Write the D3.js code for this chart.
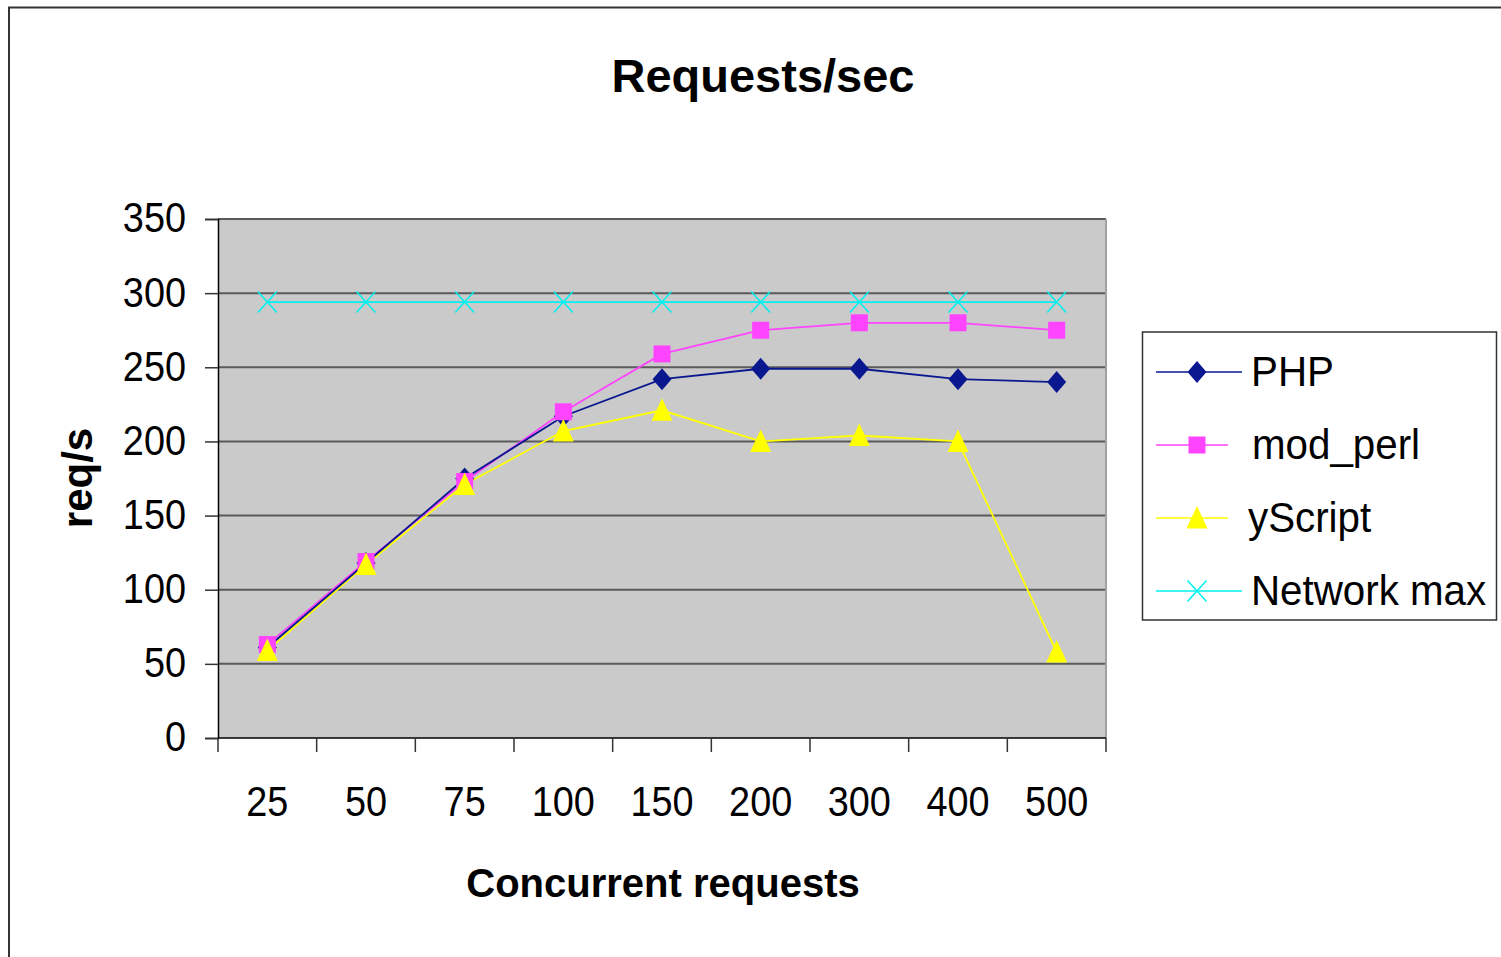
<!DOCTYPE html>
<html>
<head>
<meta charset="utf-8">
<script src="https://cdn.jsdelivr.net/npm/d3@7"></script>
<style>
  body { margin: 0; background: #fff; }
  text { font-family: "Liberation Sans", Arial, sans-serif; fill: #000; }
</style>
</head>
<body>
<div id="chart"></div>
<script>
// data
const categories = ['25', '50', '75', '100', '150', '200', '300', '400', '500'];
const php = [61, 118, 175, 217, 242, 249, 249, 242, 240];
const modPerl = [63, 119, 173, 220, 259, 275, 280, 280, 275];
const yScript = [59, 117, 171, 207, 221, 200, 204, 200, 58];
const networkMax = [294, 294, 294, 294, 294, 294, 294, 294, 294];
const yTicks = [0, 50, 100, 150, 200, 250, 300, 350];

const series = [
    { name: 'PHP', values: php, color: '#0a1890', symbol: 'diamond', legendLen: 'long' },
    { name: 'mod_perl', values: modPerl, color: '#ff44ff', symbol: 'square', legendLen: 'short' },
    { name: 'yScript', values: yScript, color: '#ffff00', symbol: 'triangle', legendLen: 'short' },
    { name: 'Network max', values: networkMax, color: '#00f0f0', symbol: 'cross', legendLen: 'long' },
];

const width = 1501;
const height = 957;
const plot = { left: 218, top: 219, right: 1106, bottom: 738 };

const svg = d3.select('#chart')
    .append('svg')
    .attr('width', width)
    .attr('height', height);

// outer frame
svg.append('rect')
    .attr('x', 9).attr('y', 7.5)
    .attr('width', width + 10).attr('height', height + 10)
    .attr('fill', 'none')
    .attr('stroke', '#333')
    .attr('stroke-width', 2);

const x = d3.scaleBand()
    .domain(categories)
    .range([plot.left, plot.right]);

const y = d3.scaleLinear()
    .domain([0, 350])
    .range([plot.bottom, plot.top]);

// plot background
svg.append('rect')
    .attr('x', plot.left).attr('y', plot.top)
    .attr('width', plot.right - plot.left)
    .attr('height', plot.bottom - plot.top)
    .attr('fill', '#cacaca');

// gridlines
svg.append('g')
    .selectAll('line')
    .data(yTicks.filter((d) => d > 0))
    .enter()
    .append('line')
    .attr('x1', plot.left).attr('x2', plot.right)
    .attr('y1', (d) => y(d)).attr('y2', (d) => y(d))
    .attr('stroke', '#5a5a5a')
    .attr('stroke-width', 2);

// right border of plot
svg.append('line')
    .attr('x1', plot.right).attr('x2', plot.right)
    .attr('y1', plot.top).attr('y2', plot.bottom)
    .attr('stroke', '#a0a0a0')
    .attr('stroke-width', 2);

// y axis
const yAxis = svg.append('g')
    .attr('transform', `translate(${plot.left},0)`)
    .call(d3.axisLeft(y).tickValues(yTicks).tickSize(13).tickFormat(''));
yAxis.select('.domain').attr('stroke', '#000').attr('stroke-width', 1.5);
yAxis.selectAll('.tick line').attr('stroke', '#333').attr('stroke-width', 1.5);

yAxis.selectAll('.tick')
    .append('text')
    .attr('transform', 'translate(-32,0) scale(0.88,1)')
    .attr('text-anchor', 'end')
    .attr('dy', '0.3em')
    .style('font-size', '43px')
    .text((d) => d);

// x axis: ticks between categories
const bounds = categories.map((c) => x(c)).concat([plot.right]);
svg.append('line')
    .attr('x1', plot.left).attr('x2', plot.right)
    .attr('y1', plot.bottom).attr('y2', plot.bottom)
    .attr('stroke', '#000')
    .attr('stroke-width', 1.5);
svg.append('g')
    .selectAll('line')
    .data(bounds)
    .enter()
    .append('line')
    .attr('x1', (d) => d).attr('x2', (d) => d)
    .attr('y1', plot.bottom).attr('y2', plot.bottom + 14)
    .attr('stroke', '#333')
    .attr('stroke-width', 1.5);

svg.append('g')
    .selectAll('text')
    .data(categories)
    .enter()
    .append('text')
    .attr('transform', (d) => `translate(${x(d) + x.bandwidth() / 2},816) scale(0.88,1)`)
    .attr('text-anchor', 'middle')
    .style('font-size', '43px')
    .text((d) => d);

// titles
svg.append('text')
    .attr('x', 763).attr('y', 92)
    .attr('text-anchor', 'middle')
    .style('font-size', '47px')
    .style('font-weight', 'bold')
    .text('Requests/sec');

svg.append('text')
    .attr('x', 663).attr('y', 897)
    .attr('text-anchor', 'middle')
    .style('font-size', '40px')
    .style('font-weight', 'bold')
    .text('Concurrent requests');

svg.append('text')
    .attr('transform', 'translate(92,478) rotate(-90)')
    .attr('text-anchor', 'middle')
    .style('font-size', '42px')
    .style('font-weight', 'bold')
    .text('req/s');

// marker drawing
function drawMarker(g, symbol, color) {
    if (symbol === 'diamond') {
        g.append('path').attr('d', 'M0,-11L9.5,0L0,11L-9.5,0Z').attr('fill', color);
    } else if (symbol === 'square') {
        g.append('rect').attr('x', -8.5).attr('y', -8.5).attr('width', 17).attr('height', 17).attr('fill', color);
    } else if (symbol === 'triangle') {
        g.append('path').attr('d', 'M0,-12L10.5,10.5L-10.5,10.5Z').attr('fill', color);
    } else {
        g.append('path').attr('d', 'M-9.5,-10.5L9.5,10.5M-9.5,10.5L9.5,-10.5')
            .attr('stroke', color).attr('stroke-width', 1.5).attr('fill', 'none');
    }
}

const line = d3.line()
    .x((d, i) => x(categories[i]) + x.bandwidth() / 2)
    .y((d) => y(d));

// draw Network max first, then the others on top in reverse legend order
const drawOrder = [series[3], series[2], series[1], series[0]];
drawOrder.forEach((s) => {
    svg.append('path')
        .attr('d', line(s.values))
        .attr('fill', 'none')
        .attr('stroke', s.color)
        .attr('stroke-width', 1.8);
});
[series[3], series[0], series[1], series[2]].forEach((s) => {
    s.values.forEach((v, i) => {
        const g = svg.append('g')
            .attr('transform', `translate(${x(categories[i]) + x.bandwidth() / 2},${y(v)})`);
        drawMarker(g, s.symbol, s.color);
    });
});

// legend
const legend = svg.append('g');
legend.append('rect')
    .attr('x', 1142.5).attr('y', 332)
    .attr('width', 354).attr('height', 288)
    .attr('fill', '#fff')
    .attr('stroke', '#333')
    .attr('stroke-width', 1.5);

const legendRows = [372, 445, 518, 591];
const legendTextX = [1251, 1252, 1248, 1251];
series.forEach((s, i) => {
    const row = legend.append('g').attr('transform', `translate(0,${legendRows[i]})`);
    row.append('line')
        .attr('x1', 1156).attr('x2', s.legendLen === 'long' ? 1242 : 1228)
        .attr('y1', 0).attr('y2', 0)
        .attr('stroke', s.color)
        .attr('stroke-width', 1.5);
    const m = row.append('g').attr('transform', 'translate(1197,0)');
    drawMarker(m, s.symbol, s.color);
    row.append('text')
        .attr('transform', `translate(${legendTextX[i]},0) scale(0.96,1)`)
        .attr('dy', '0.33em')
        .style('font-size', '42px')
        .text(s.name);
});
</script>
</body>
</html>
